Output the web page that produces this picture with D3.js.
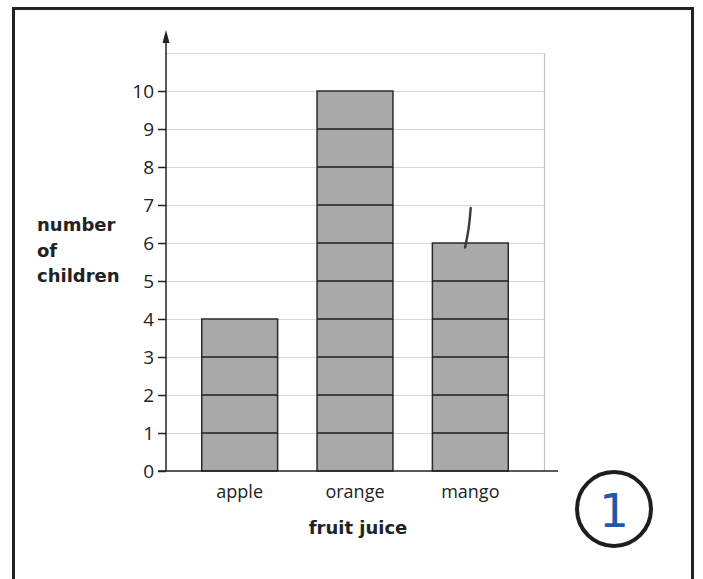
<!DOCTYPE html>
<html>
<head>
<meta charset="utf-8">
<script src="https://cdn.jsdelivr.net/npm/d3@7"></script>
<style>
  body { margin: 0; background: #fff; }
  svg { display: block; }
  text { font-family: "Open Sans", sans-serif; fill: #222; }
</style>
</head>
<body>
<div id="chart"></div>
<script>
// Chart values
var fruits = ["apple", "orange", "mango"];
var children = [4, 10, 6];
var yTicks = [0, 1, 2, 3, 4, 5, 6, 7, 8, 9, 10];
var yLabelLines = ["number", "of", "children"];
var xTitle = "fruit juice";
var pencilMark = [[0.075, 6.92], [0.06, 6.55], [0.035, 6.2], [0.0, 5.88]]; // hand-drawn tick on mango (band offset, value)

var svgWidth = 703;
var svgHeight = 579;

var svg = d3.select("#chart")
  .append("svg")
  .attr("width", svgWidth)
  .attr("height", svgHeight);

// outer frame (open at the bottom)
svg.append("path")
  .attr("d", "M13.5,590 V8.5 H692.5 V590")
  .attr("fill", "none")
  .attr("stroke", "#222")
  .attr("stroke-width", 3);

var x0 = 166, x1 = 544, yBase = 471, yTop = 53;

var xScale = d3.scaleBand()
  .domain(fruits)
  .range([x0, x1])
  .paddingInner(0.342)
  .paddingOuter(0.31);

var yScale = d3.scaleLinear()
  .domain([0, 11])
  .range([yBase, yTop]);

// grid
svg.append("g")
  .selectAll("line")
  .data(d3.range(1, 12))
  .join("line")
  .attr("x1", x0).attr("x2", x1)
  .attr("y1", d => yScale(d) + 0.5).attr("y2", d => yScale(d) + 0.5)
  .attr("stroke", "#d6d6d6")
  .attr("stroke-width", 1.2);

svg.append("line")
  .attr("x1", x1 + 0.5).attr("x2", x1 + 0.5)
  .attr("y1", yTop).attr("y2", yBase)
  .attr("stroke", "#c4c4c4")
  .attr("stroke-width", 1.2);

// bars
var bars = svg.append("g");
bars.selectAll("rect")
  .data(fruits)
  .join("rect")
  .attr("x", d => xScale(d))
  .attr("y", (d, i) => yScale(children[i]))
  .attr("width", xScale.bandwidth())
  .attr("height", (d, i) => yBase - yScale(children[i]))
  .attr("fill", "#a9a9a9")
  .attr("stroke", "#2b2b2b")
  .attr("stroke-width", 1.5);

// unit lines inside bars
fruits.forEach(function(f, i) {
  bars.append("g")
    .selectAll("line")
    .data(d3.range(1, children[i]))
    .join("line")
    .attr("x1", xScale(f)).attr("x2", xScale(f) + xScale.bandwidth())
    .attr("y1", d => yScale(d)).attr("y2", d => yScale(d))
    .attr("stroke", "#1e1e1e")
    .attr("stroke-width", 1.5);
});

// pencil mark on mango
var pencil = d3.line()
  .x(d => xScale("mango") + xScale.bandwidth() * (0.43 + d[0]))
  .y(d => yScale(d[1]))
  .curve(d3.curveBasis);
svg.append("path")
  .attr("d", pencil(pencilMark))
  .attr("fill", "none")
  .attr("stroke", "#3a3a3a")
  .attr("stroke-width", 2.4)
  .attr("stroke-linecap", "round");

// y axis
var leftAxis = d3.axisLeft(yScale)
  .tickValues(yTicks)
  .tickSize(8)
  .tickPadding(4);
var yAxis = svg.append("g")
  .attr("transform", `translate(${x0}, 0)`)
  .call(leftAxis);
yAxis.select(".domain").remove();
yAxis.selectAll(".tick line").attr("stroke", "#222").attr("stroke-width", 1.5);
yAxis.selectAll(".tick text")
  .style("font-family", "'Open Sans', sans-serif")
  .style("font-size", "19px")
  .attr("fill", "#222");

svg.append("line")
  .attr("x1", x0).attr("x2", x0)
  .attr("y1", yBase).attr("y2", 40)
  .attr("stroke", "#222")
  .attr("stroke-width", 1.5);
svg.append("path")
  .attr("d", `M${x0},30 L${x0 - 3.5},43 L${x0 + 3.5},43 Z`)
  .attr("fill", "#222");

// baseline
svg.append("line")
  .attr("x1", x0 - 8).attr("x2", 558)
  .attr("y1", yBase).attr("y2", yBase)
  .attr("stroke", "#222")
  .attr("stroke-width", 1.6);

// x category labels
svg.append("g")
  .selectAll("text")
  .data(fruits)
  .join("text")
  .attr("x", d => xScale(d) + xScale.bandwidth() / 2)
  .attr("y", 498)
  .attr("text-anchor", "middle")
  .style("font-size", "18px")
  .text(d => d);

// axis titles
svg.append("text")
  .attr("x", 358)
  .attr("y", 534)
  .attr("text-anchor", "middle")
  .style("font-family", "'DejaVu Sans', sans-serif")
  .style("font-size", "18px")
  .style("font-weight", "bold")
  .text(xTitle);

svg.append("g")
  .selectAll("text")
  .data(yLabelLines)
  .join("text")
  .attr("x", 37)
  .attr("y", (d, i) => 231 + i * 25.5)
  .style("font-family", "'DejaVu Sans', sans-serif")
  .style("font-size", "18px")
  .style("font-weight", "bold")
  .text(d => d);

// page number badge
svg.append("circle")
  .attr("cx", 614).attr("cy", 509).attr("r", 37)
  .attr("fill", "none")
  .attr("stroke", "#1e1e1e")
  .attr("stroke-width", 4);
svg.append("text")
  .attr("x", 614).attr("y", 527)
  .attr("text-anchor", "middle")
  .style("font-family", "'DejaVu Sans', sans-serif")
  .style("font-size", "47px")
  .style("fill", "#1f5aa8")
  .text("1");
</script>
</body>
</html>
